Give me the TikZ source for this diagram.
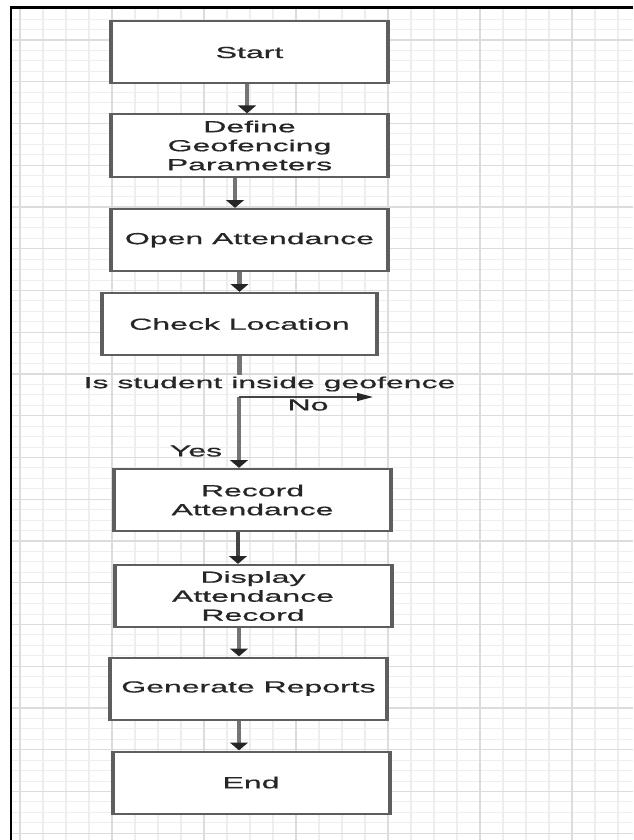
\documentclass[tikz,border=0pt]{standalone}
\usepackage{fontspec}
\setmainfont[FakeBold=0.5]{Liberation Sans}
\usetikzlibrary{arrows.meta}
\definecolor{gridminor}{HTML}{EEEEEE}
\definecolor{gridmajor}{HTML}{DCDCDC}
\definecolor{boxline}{HTML}{5E5E5E}
\definecolor{shaft}{HTML}{747474}
\definecolor{shaftdark}{HTML}{444444}
\definecolor{txt}{HTML}{262626}
\begin{document}
\begin{tikzpicture}[x=1pt,y=-1pt,
  box/.style={draw=boxline, line width=2pt, fill=white, minimum width=138.5pt,
    minimum height=62pt, inner sep=0pt, align=center,
    font=\fontsize{16}{19}\selectfont, text=txt},
  lbl/.style={inner sep=0pt, font=\fontsize{16}{19}\selectfont, text=txt},
  arr/.style={draw=shaft, line width=2.2pt,
    -{Triangle[length=8pt,width=8.5pt,color=black!85]}},
  arrdark/.style={draw=shaftdark, line width=2.4pt,
    -{Triangle[length=8pt,width=8.5pt,color=black!85]}},
  arrthin/.style={draw=shaftdark, line width=1.5pt,
    -{Triangle[length=8pt,width=8pt,color=black!85]}},
  plainline/.style={draw=shaft, line width=2.2pt},
  gridmin/.style={draw=gridminor, line width=1pt},
  gridminv/.style={draw=gridminor, line width=1.6pt},
  gridmaj/.style={draw=gridmajor, line width=1.2pt},
  gridmajv/.style={draw=gridmajor, line width=1.8pt}
 ]
\useasboundingbox (0,0) rectangle (633,840);
\fill[white] (0,0) rectangle (633,840);
% grid
\foreach \k in {-3,...,76}
  \draw[gridmin] (10,{40+10.4375*\k}) -- (633,{40+10.4375*\k});
\foreach \k in {0,...,26}
  \draw[gridminv] ({20+23*\k},7) -- ({20+23*\k},840);
\foreach \k in {0,...,19}
  \draw[gridmaj] (10,{40+41.75*\k}) -- (633,{40+41.75*\k});
\foreach \k in {0,...,6}
  \draw[gridmajv] ({20+92*\k},7) -- ({20+92*\k},840);
% frame
\draw[black, line width=2.5pt] (633,7.5) -- (11,7.5) -- (11,840);

\begin{scope}[transform canvas={xscale=2}]
\node[box] (start) at (124.75,52.5) {Start};
\node[box] (define) at (124.75,145.5) {Define\\Geofencing\\Parameters};
\node[box] (open) at (124.75,240) {Open Attendance};
\node[box, minimum width=137.5pt] (check) at (119.75,324) {Check Location};
\node[box] (record) at (126.25,500) {Record\\Attendance};
\node[box] (display) at (126.5,596) {Display\\Attendance\\Record};
\node[box] (generate) at (124.25,688.5) {Generate Reports};
\node[box] (stop) at (125.5,782.5) {End};

\coordinate (a1) at ([xshift=-1.25pt]start.south);
\draw[arr] (a1) -- (a1 |- define.north);
\coordinate (a2) at ([xshift=-7.25pt]define.south);
\draw[arr] (a2) -- (a2 |- open.north);
\draw[arr] (check.north |- open.south) -- (check.north);

\coordinate (gaptop) at (119.75,375);
\coordinate (j) at (119.5,397);
\coordinate (noend) at (186.5,397);
\draw[plainline] (check.south) -- (gaptop);
\node[lbl] (q) at (134.75,384) {Is student inside geofence};
\draw[arr] (j) -- (j |- record.north);
\draw[arrthin] (j) -- (noend);
\node[lbl] (no) at (154,405) {No};
\node[lbl] (yes) at (98,451) {Yes};

\coordinate (a3) at ([xshift=-7.25pt]record.south);
\draw[arrdark] (a3) -- (a3 |- display.north);
\coordinate (a4) at ([xshift=-7pt]display.south);
\draw[arr] (a4) -- (a4 |- generate.north);
\coordinate (a5) at ([xshift=-4.75pt]generate.south);
\draw[arr] (a5) -- (a5 |- stop.north);
\end{scope}
\end{tikzpicture}
\end{document}
